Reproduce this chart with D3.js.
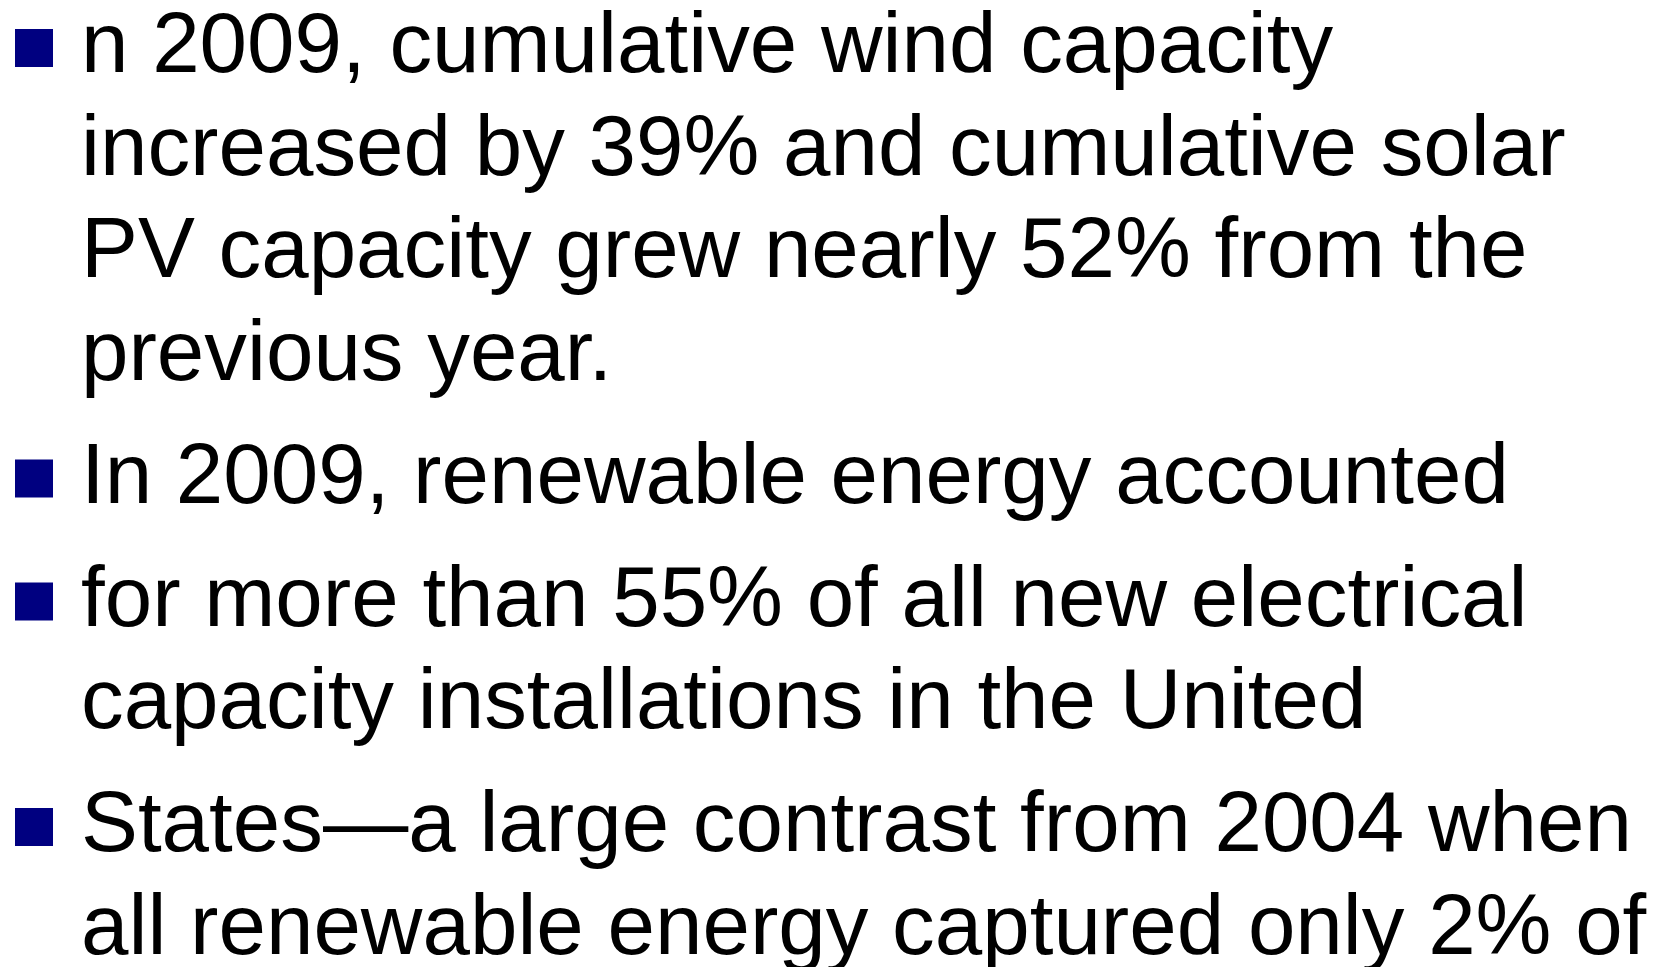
<!DOCTYPE html>
<html>
<head>
    <meta charset="utf-8">
    <title>Renewable energy 2009</title>
    <script src="https://d3js.org/d3.v7.min.js"></script>
    <style>
        html, body {
            margin: 0;
            padding: 0;
            background: #ffffff;
            overflow: hidden;
        }
        .line {
            font-family: "Liberation Sans", Arial, sans-serif;
            fill: #000000;
        }
        .bullet {
            fill: #000080;
        }
    </style>
</head>
<body>
<div id="slide"></div>

<script>
// 幻灯片文字，每个要点一组行
const point1 = [
    "n 2009, cumulative wind capacity",
    "increased by 39% and cumulative solar",
    "PV capacity grew nearly 52% from the",
    "previous year."
];
const point2 = [
    "In 2009, renewable energy accounted"
];
const point3 = [
    "for more than 55% of all new electrical",
    "capacity installations in the United"
];
const point4 = [
    "States\u2014a large contrast from 2004 when",
    "all renewable energy captured only 2% of"
];
const points = [point1, point2, point3, point4];

// 版面
const width = 1661;
const height = 967;
const fontSize = 85.33;
const lineGap = 102.5;     // 段内行距
const paraGap = 20.5;      // 段前额外间距
const firstBaseline = 72;
const textX = 81;
const bulletX = 15;
const bulletSize = 38;

const svg = d3.select("#slide")
    .append("svg")
    .attr("width", width)
    .attr("height", height);

// 计算每行的基线位置
const rows = [];
let y = firstBaseline;
points.forEach((lines, p) => {
    if (p > 0) y += paraGap;
    lines.forEach((text, i) => {
        rows.push({ text: text, y: y, first: i === 0 });
        y += lineGap;
    });
});

// 方块项目符号
svg.selectAll("rect.bullet")
    .data(rows.filter(d => d.first))
    .enter()
    .append("rect")
    .attr("class", "bullet")
    .attr("x", bulletX)
    .attr("y", d => d.y - 43)
    .attr("width", bulletSize)
    .attr("height", bulletSize);

// 文字行
svg.selectAll("text.line")
    .data(rows)
    .enter()
    .append("text")
    .attr("class", "line")
    .attr("x", textX)
    .attr("y", d => d.y)
    .attr("font-size", fontSize)
    .text(d => d.text);
</script>
</body>
</html>
